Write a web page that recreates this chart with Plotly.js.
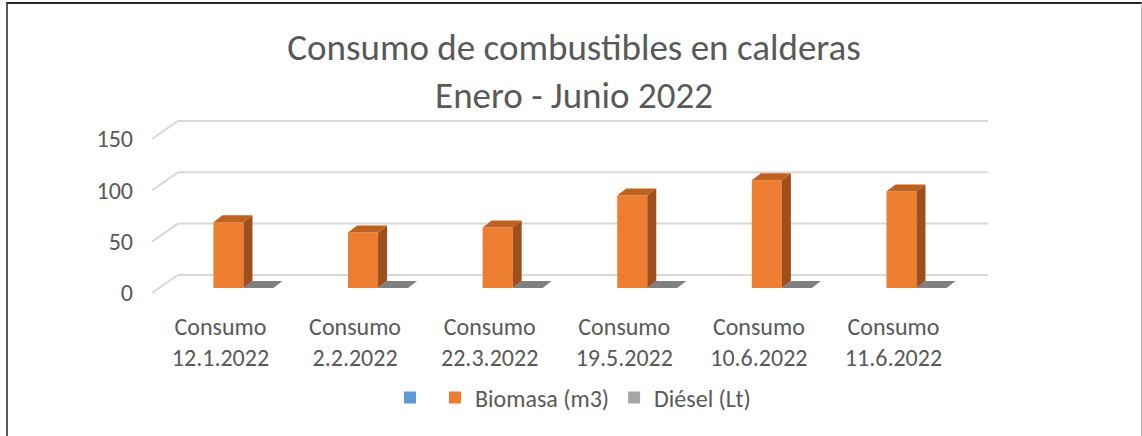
<!DOCTYPE html>
<html>
<head>
<meta charset="utf-8">
<script src="https://cdn.plot.ly/plotly-3.0.1.min.js"></script>
<style>
  body { margin: 0; background: #fff; }
  #plot { position: absolute; left: 0; top: 0; width: 1142px; height: 436px; }
  #frame {
    position: absolute; left: 6px; top: 2px; width: 1133px; height: 460px;
    border-top: 2px solid #262626; border-left: 2px solid #595959; border-right: 1px solid #bfbfbf;
    pointer-events: none;
  }
</style>
</head>
<body>
<div id="plot"></div>
<div id="frame"></div>
<script>
var categories = ['Consumo<br>12.1.2022', 'Consumo<br>2.2.2022', 'Consumo<br>22.3.2022',
                  'Consumo<br>19.5.2022', 'Consumo<br>10.6.2022', 'Consumo<br>11.6.2022'];
var blankSeries = [null, null, null, null, null, null];
var biomasa = [64, 54, 59, 90, 105, 94];
var diesel = [0, 0, 0, 0, 0, 0];
var yTicks = [0, 50, 100, 150];

var FONT = 'Carlito, Calibri, Lato, sans-serif';
var TXT = '#595959';

// fake 3d: depth offsets in data units
var bargap = 0.331;
var barW = (1 - bargap) / 3;
var hw = barW / 2;
var dx = 0.067, dy = 6.8;
var backShift = 12.7;   // back wall gridlines sit higher
var frontShift = -4.9;  // axis labels sit on the front edge

var xs = categories.map(function (_, i) { return i; });

function polys(fn) {
  var px = [], py = [];
  xs.forEach(function (x, i) {
    var p = fn(x, i);
    p.forEach(function (pt) { px.push(pt[0]); py.push(pt[1]); });
    px.push(p[0][0]); py.push(p[0][1]);
    px.push(null); py.push(null);
  });
  return { x: px, y: py };
}

var bioSide = polys(function (x, i) {
  var v = biomasa[i];
  return [[x + hw, 0], [x + hw + dx, dy], [x + hw + dx, v + dy], [x + hw, v]];
});
var bioTop = polys(function (x, i) {
  var v = biomasa[i];
  return [[x - hw, v], [x - hw + dx, v + dy], [x + hw + dx, v + dy], [x + hw, v]];
});
var dieTop = polys(function (x, i) {
  var c = x + barW, v = diesel[i];
  return [[c - hw, v], [c - hw + dx, v + dy], [c + hw + dx, v + dy], [c + hw, v]];
});

function face(p, color) {
  return {
    x: p.x, y: p.y, type: 'scatter', mode: 'lines', fill: 'toself',
    fillcolor: color, line: { width: 0, color: color },
    showlegend: false, hoverinfo: 'skip'
  };
}

var data = [
  face(dieTop, '#808080'),
  { x: xs, y: blankSeries, type: 'bar', name: '', marker: { color: '#5B9BD5' } },
  { x: xs, y: biomasa, type: 'bar', name: 'Biomasa (m3)', marker: { color: '#ED7D31' } },
  { x: xs, y: diesel, type: 'bar', name: 'Diésel (Lt)', marker: { color: '#A5A5A5' } },
  face(bioSide, '#9E4F1C'),
  face(bioTop, '#C0621F')
];

var gx = 26 / 836;
var shapes = [];
yTicks.forEach(function (t) {
  shapes.push({ type: 'line', xref: 'paper', yref: 'y', x0: gx, x1: 1,
    y0: t + backShift, y1: t + backShift, line: { color: '#d9d9d9', width: 2 }, layer: 'below' });
  shapes.push({ type: 'line', xref: 'paper', yref: 'y', x0: 0, x1: gx,
    y0: t + frontShift, y1: t + backShift, line: { color: '#d9d9d9', width: 2 }, layer: 'below' });
});

var layout = {
  width: 1142, height: 436,
  margin: { l: 152, r: 154, t: 115, b: 136 },
  paper_bgcolor: 'rgba(0,0,0,0)', plot_bgcolor: 'rgba(0,0,0,0)',
  font: { family: FONT, size: 24, color: TXT },
  title: {
    text: 'Consumo de combustibles en calderas<br>Enero - Junio 2022',
    font: { family: FONT, size: 37, color: TXT },
    x: 574 / 1142, xanchor: 'center', xref: 'container',
    y: 1 - 59.5 / 436, yanchor: 'middle', yref: 'container'
  },
  barmode: 'group', bargap: bargap, bargroupgap: 0,
  xaxis: {
    range: [-0.568, 5.643], tickvals: xs, ticktext: categories,
    showgrid: false, zeroline: false, showline: false, ticks: '',
    ticklabelshift: -8, ticklabelstandoff: 10,
    tickfont: { family: FONT, size: 24, color: TXT }
  },
  yaxis: {
    range: [-11.68, 168.45],
    tickvals: yTicks.map(function (t) { return t + frontShift; }),
    ticktext: yTicks.map(String),
    showgrid: false, zeroline: false, showline: false, ticks: '',
    ticklabelstandoff: 18,
    tickfont: { family: FONT, size: 24, color: TXT }
  },
  shapes: shapes,
  showlegend: true,
  legend: {
    orientation: 'h', xref: 'container', x: 573 / 1142, xanchor: 'center',
    yref: 'container', y: 1 - 398 / 436, yanchor: 'middle',
    font: { family: FONT, size: 24, color: TXT }, traceorder: 'normal'
  }
};

Plotly.newPlot('plot', data, layout, { displayModeBar: false, staticPlot: true });
</script>
</body>
</html>
